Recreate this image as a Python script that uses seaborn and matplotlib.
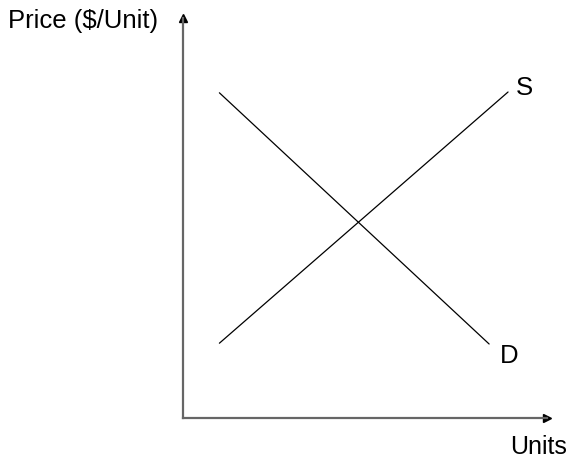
import matplotlib
matplotlib.use("Agg")
import matplotlib.pyplot as plt
import seaborn as sns
import pandas as pd

# Data (abstract units)
supply_q = [1.0, 8.93]
supply_p = [1.87, 8.15]
demand_q = [1.0, 8.41]
demand_p = [8.13, 1.85]
curve_labels = ["S", "D"]

sns.set_style("white")
plt.rcParams['font.family'] = ['Liberation Sans', 'DejaVu Sans']

df = pd.DataFrame({
    "Units": supply_q + demand_q,
    "Price": supply_p + demand_p,
    "curve": ["S"] * len(supply_q) + ["D"] * len(demand_q),
})

W, H = 573, 461
fig = plt.figure(figsize=(W / 100, H / 100), dpi=100)
x0, y0, x1, y1 = 183, 418, 547, 18
ax = fig.add_axes([x0 / W, (H - y0) / H, (x1 - x0) / W, (y0 - y1) / H])

sns.lineplot(data=df, x="Units", y="Price", hue="curve", units="curve",
             estimator=None, palette={"S": "black", "D": "black"},
             linewidth=0.9, legend=False, ax=ax, sort=False)

ax.set_xlim(0, 10)
ax.set_ylim(0, 10)
ax.set_xticks([])
ax.set_yticks([])
ax.set_xlabel("")
ax.set_ylabel("")
for s in ["top", "right"]:
    ax.spines[s].set_visible(False)
for s in ["left", "bottom"]:
    ax.spines[s].set_color("#666666")
    ax.spines[s].set_linewidth(1.6)

# arrowheads
ax.plot(1, 0, ">", transform=ax.transAxes, color="black", markersize=5.5, clip_on=False)
ax.plot(0, 1, "^", transform=ax.transAxes, color="black", markersize=5.5, clip_on=False)

# curve labels
ax.text(supply_q[-1] + 0.45, supply_p[-1] + 0.1, curve_labels[0], fontsize=18.5,
        ha="center", va="center", color="black")
ax.text(demand_q[-1] + 0.55, demand_p[-1] - 0.3, curve_labels[1], fontsize=18.5,
        ha="center", va="center", color="black")

fig.text(8 / W, 1 - 21 / H, "Price ($/Unit)", fontsize=18.5, ha="left", va="center",
         color="black")
fig.text(567 / W, 1 - 447 / H, "Units", fontsize=18, ha="right", va="center",
         color="black")

fig.savefig("out.png", dpi=100)
